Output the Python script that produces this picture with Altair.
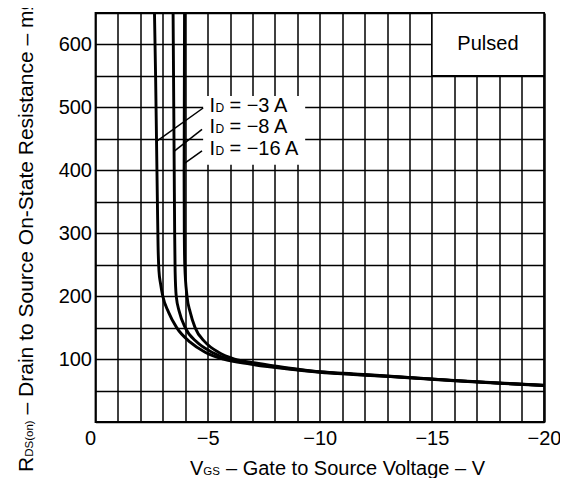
import altair as alt
import pandas as pd

FONT = "Liberation Sans"

# Curve data (VGS in V, RDS(on) in mOhm)
A_V = [-2.63, -2.68, -2.72, -2.76, -2.79, -2.83, -2.90, -3.00, -3.25, -3.62, -4.22, -4.89, -5.70, -6.90, -8.50, -10.0, -11.5, -13.0, -14.5, -16.0, -18.0, -20.0]
A_R = [650, 550, 450, 350, 280, 240, 220, 200, 175, 150, 127, 111, 100, 92, 84.5, 79, 75.5, 72.5, 69, 65.5, 61.5, 58]
B_V = [-3.46, -3.49, -3.51, -3.53, -3.55, -3.60, -3.74, -4.00, -4.52, -5.19, -5.93, -7.00, -8.50, -10.0, -11.5, -13.0, -14.5, -16.0, -18.0, -20.0]
B_R = [650, 500, 400, 300, 240, 200, 175, 150, 127, 111, 100, 93, 85.5, 79.5, 76, 72.8, 69.3, 65.8, 61.8, 58.2]
C_V = [-3.97, -3.96, -3.95, -3.96, -3.98, -4.08, -4.22, -4.44, -4.89, -5.48, -6.20, -7.20, -8.50, -10.0, -11.5, -13.0, -14.5, -16.0, -18.0, -20.0]
C_R = [650, 500, 400, 300, 250, 200, 175, 150, 127, 111, 100, 93.5, 86.5, 80, 76.5, 73.2, 69.6, 66.1, 62, 58.4]
CURVE_NAMES = ["ID = -3 A", "ID = -8 A", "ID = -16 A"]

# Label annotations
LAB_TEXT = ["= \u22123 A", "= \u22128 A", "= \u221216 A"]
LAB_V = [-5.08, -5.08, -5.08]
LAB_R = [492.8, 459.0, 424.3]
LEAD_V1 = [-4.80, -4.75, -4.75]
LEAD_R1 = [499, 465, 431]
LEAD_V2 = [-2.72, -3.50, -3.92]
LEAD_R2 = [446, 430, 410]

X_GRID = list(range(0, -21, -1))
Y_GRID = list(range(0, 651, 50))

rows = []
for name, vs, rs in zip(CURVE_NAMES, [A_V, B_V, C_V], [A_R, B_R, C_R]):
    for i, (v, r) in enumerate(zip(vs, rs)):
        rows.append({"curve": name, "v": v, "r": r, "idx": i})
curves = pd.DataFrame(rows)

labels = pd.DataFrame({"v": LAB_V, "r": LAB_R, "txt": LAB_TEXT})
leaders = pd.DataFrame({"v": LEAD_V1, "r": LEAD_R1, "v2": LEAD_V2, "r2": LEAD_R2})
legend_bg = pd.DataFrame({"v": [-4.8], "v2": [-9.35], "r": [409], "r2": [518]})
pulsed_box = pd.DataFrame({"v": [-15], "v2": [-20], "r": [550], "r2": [650], "vc": [-17.5], "rc": [600], "txt": ["Pulsed"]})

xscale = alt.Scale(domain=[0, -20], nice=False, zero=False)
yscale = alt.Scale(domain=[0, 650], nice=False, zero=False)

x_axis = alt.Axis(
    values=X_GRID,
    labelExpr="datum.value % 5 == 0 ? datum.label : ''",
    labelAlign={"condition": {"test": "datum.value == 0", "value": "right"}, "value": "center"},
    labelFlush=False,
    labelOverlap=False,
    labelPadding=6,
    labelFontSize=20,
    ticks=False,
    domain=False,
    grid=True,
    title=None,
)
y_axis = alt.Axis(
    values=Y_GRID,
    labelExpr="(datum.value % 100 == 0 && datum.value > 0 && datum.value < 650) ? datum.label : ''",
    labelFlush=False,
    labelOverlap=False,
    labelPadding=4,
    labelFontSize=20,
    labelBaseline="middle",
    ticks=False,
    domain=False,
    grid=True,
    title=None,
)

def X(field):
    return alt.X(field, type="quantitative", scale=xscale, axis=x_axis, title=None)

def Y(field):
    return alt.Y(field, type="quantitative", scale=yscale, axis=y_axis, title=None)

lines = alt.Chart(curves).mark_line(color="black", strokeWidth=2.9, strokeJoin="round", interpolate="monotone").encode(
    x=X("v"), y=Y("r"), detail="curve:N", order="idx:Q",
)

bg = alt.Chart(legend_bg).mark_rect(fill="white", strokeWidth=0).encode(
    x=X("v"), x2="v2:Q", y=Y("r"), y2="r2:Q",
)

box = alt.Chart(pulsed_box).mark_rect(fill="white", stroke="black", strokeWidth=1.6).encode(
    x=X("v"), x2="v2:Q", y=Y("r"), y2="r2:Q",
)
box_text = alt.Chart(pulsed_box).mark_text(font=FONT, fontSize=20, color="black", align="center", baseline="middle").encode(
    x=X("vc"), y=Y("rc"), text="txt:N",
)

lead = alt.Chart(leaders).mark_rule(color="black", strokeWidth=1.5).encode(
    x=X("v"), x2="v2:Q", y=Y("r"), y2="r2:Q",
)

lab_I = alt.Chart(labels).mark_text(font=FONT, fontSize=20, color="black", align="left", baseline="alphabetic", dx=0, text="I").encode(
    x=X("v"), y=Y("r"),
)
lab_D = alt.Chart(labels).mark_text(font=FONT, fontSize=12, color="black", align="left", baseline="alphabetic", dx=6, text="D").encode(
    x=X("v"), y=Y("r"),
)
lab_rest = alt.Chart(labels).mark_text(font=FONT, fontSize=20, color="black", align="left", baseline="alphabetic", dx=20).encode(
    x=X("v"), y=Y("r"), text="txt:N",
)

def free_text(txt, x, y, size, angle=0):
    return alt.Chart(alt.Data(values=[{}])).mark_text(
        text=txt, font=FONT, fontSize=size, color="black", align="left", baseline="alphabetic", angle=angle
    ).encode(x=alt.value(x), y=alt.value(y))

# x-axis title: V(GS) - Gate to Source Voltage - V
xt1 = free_text("V", 94.5, 462, 20)
xt2 = free_text("GS", 107.8, 462, 11.5)
xt3 = free_text("\u2013 Gate to Source Voltage \u2013 V", 130.5, 462, 20)

# y-axis title: R(DS(on)) - Drain to Source On-State Resistance - mOhm
yt1 = free_text("R", -62.5, 459, 21, 270)
yt2 = free_text("DS(on)", -62.5, 443.8, 11.5, 270)
yt3 = free_text("\u2013 Drain to Source On-State Resistance \u2013 m\u03a9", -62.5, 401.4, 21, 270)

chart = alt.layer(
    bg, box, lines, lead, box_text, lab_I, lab_D, lab_rest, xt1, xt2, xt3, yt1, yt2, yt3
).properties(
    width=448.5,
    height=409,
    autosize=alt.AutoSizeParams(type="none"),
    padding={"left": 87.5, "top": 5, "right": 16, "bottom": 56},
    background="white",
).configure_axis(
    labelFont=FONT,
    labelColor="black",
    gridColor="black",
    gridOpacity=1,
    gridWidth=1.5,
).configure_view(
    stroke="black",
    strokeWidth=1.8,
)

chart.save("out.html", embed_options={"renderer": "svg", "actions": False})
